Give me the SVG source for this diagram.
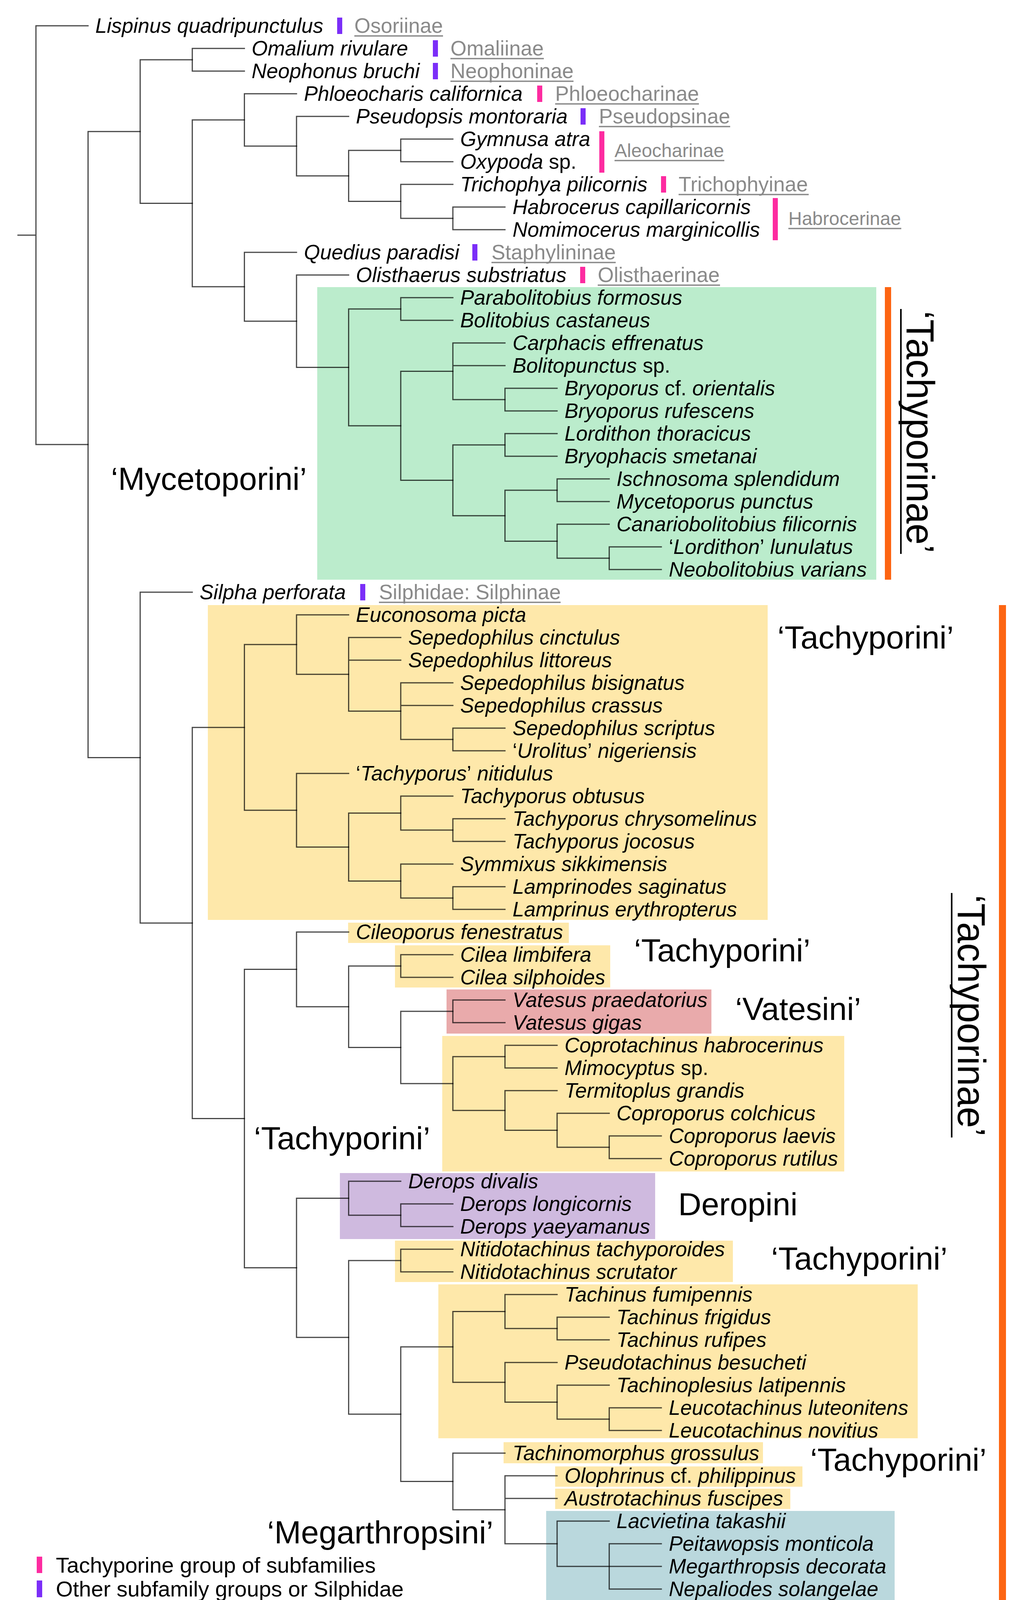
<svg xmlns="http://www.w3.org/2000/svg" width="2616" height="4142" viewBox="0 0 2616 4142">
<style>
.lf{font-family:"Liberation Sans",Arial,sans-serif;font-size:53px;font-style:italic;fill:#000}
.up{font-style:normal}
.sf{font-family:"Liberation Sans",Arial,sans-serif;font-size:53px;fill:#8a8a8a}
.sf2{font-family:"Liberation Sans",Arial,sans-serif;font-size:48px;fill:#8a8a8a}
.ul{stroke:#8a8a8a;stroke-width:3.5}
.cl{font-family:"Liberation Sans",Arial,sans-serif;font-size:82px;fill:#000}
.rt{font-family:"Liberation Sans",Arial,sans-serif;font-size:100px;fill:#000}
.lg{font-family:"Liberation Sans",Arial,sans-serif;font-size:56px;fill:#000}
.pk{fill:#fd2ba0}
.pu{fill:#7b2ef8}
.gr{fill:#bbeccc}
.ye{fill:#fee8aa}
.rd{fill:#e9aaab}
.vi{fill:#cfbadf}
.bl{fill:#bad8dd}
.or{fill:#fd6512}
#connectors path{fill:none;stroke:#000;stroke-opacity:0.72;stroke-width:3;stroke-linecap:square}
</style>
<rect width="2616" height="4142" fill="#fff"/>
<g id="boxes">
<rect class="gr" x="812" y="735" width="1431" height="749"/>
<rect class="ye" x="532" y="1549" width="1433" height="806"/>
<rect class="ye" x="891" y="2362" width="565" height="52"/>
<rect class="ye" x="1011" y="2420" width="551" height="108"/>
<rect class="rd" x="1143" y="2533" width="678" height="113"/>
<rect class="ye" x="1132" y="2652" width="1029" height="347"/>
<rect class="vi" x="870" y="3003" width="807" height="169"/>
<rect class="ye" x="1011" y="3176" width="865" height="106"/>
<rect class="ye" x="1122" y="3288" width="1227" height="394"/>
<rect class="ye" x="1289" y="3692" width="664" height="54"/>
<rect class="ye" x="1421" y="3754" width="633" height="52"/>
<rect class="ye" x="1421" y="3811" width="602" height="52"/>
<rect class="bl" x="1398" y="3868" width="892" height="228"/>
</g>
<g id="connectors">
<path d="M46 602H92M92 66V1138.1M92 66H225.4M92 1138.1H225.4"/>
<path d="M225.4 336.8V1939.5M225.4 336.8H358.8M225.4 1939.5H358.8"/>
<path d="M358.8 153V520.6M358.8 153H492.2M358.8 520.6H492.2"/>
<path d="M492.2 124V182M492.2 124H625.6M492.2 182H625.6"/>
<path d="M492.2 307.1V734.1M492.2 307.1H625.6M492.2 734.1H625.6"/>
<path d="M625.6 240V374.1M625.6 240H759M625.6 374.1H759"/>
<path d="M759 298V450.3M759 298H892.4M759 450.3H892.4"/>
<path d="M892.4 385V515.5M892.4 385H1025.8M892.4 515.5H1025.8"/>
<path d="M1025.8 356V414M1025.8 356H1159.2M1025.8 414H1159.2"/>
<path d="M1025.8 472V559M1025.8 472H1159.2M1025.8 559H1159.2"/>
<path d="M1159.2 530V588M1159.2 530H1292.6M1159.2 588H1292.6"/>
<path d="M625.6 646V822.3M625.6 646H759M625.6 822.3H759"/>
<path d="M759 704V940.5M759 704H892.4M759 940.5H892.4"/>
<path d="M892.4 791V1090.1M892.4 791H1025.8M892.4 1090.1H1025.8"/>
<path d="M1025.8 762V820M1025.8 762H1159.2M1025.8 820H1159.2"/>
<path d="M1025.8 950.5V1229.6M1025.8 950.5H1159.2M1025.8 1229.6H1159.2"/>
<path d="M1159.2 878V1023M1159.2 878H1292.6M1159.2 936H1292.6M1159.2 1023H1292.6"/>
<path d="M1292.6 994V1052M1292.6 994H1426M1292.6 1052H1426"/>
<path d="M1159.2 1139V1320.3M1159.2 1139H1292.6M1159.2 1320.3H1292.6"/>
<path d="M1292.6 1110V1168M1292.6 1110H1426M1292.6 1168H1426"/>
<path d="M1292.6 1255V1385.5M1292.6 1255H1426M1292.6 1385.5H1426"/>
<path d="M1426 1226V1284M1426 1226H1559.4M1426 1284H1559.4"/>
<path d="M1426 1342V1429M1426 1342H1559.4M1426 1429H1559.4"/>
<path d="M1559.4 1400V1458M1559.4 1400H1692.8M1559.4 1458H1692.8"/>
<path d="M358.8 1516V2362.9M358.8 1516H492.2M358.8 2362.9H492.2"/>
<path d="M492.2 1862.2V2863.6M492.2 1862.2H625.6M492.2 2863.6H625.6"/>
<path d="M625.6 1650.1V2074.3M625.6 1650.1H759M625.6 2074.3H759"/>
<path d="M759 1574V1726.3M759 1574H892.4M759 1726.3H892.4"/>
<path d="M892.4 1632V1820.5M892.4 1632H1025.8M892.4 1690H1025.8M892.4 1820.5H1025.8"/>
<path d="M1025.8 1748V1893M1025.8 1748H1159.2M1025.8 1806H1159.2M1025.8 1893H1159.2"/>
<path d="M1159.2 1864V1922M1159.2 1864H1292.6M1159.2 1922H1292.6"/>
<path d="M759 1980V2168.5M759 1980H892.4M759 2168.5H892.4"/>
<path d="M892.4 2081.5V2255.5M892.4 2081.5H1025.8M892.4 2255.5H1025.8"/>
<path d="M1025.8 2038V2125M1025.8 2038H1159.2M1025.8 2125H1159.2"/>
<path d="M1159.2 2096V2154M1159.2 2096H1292.6M1159.2 2154H1292.6"/>
<path d="M1025.8 2212V2299M1025.8 2212H1159.2M1025.8 2299H1159.2"/>
<path d="M1159.2 2270V2328M1159.2 2270H1292.6M1159.2 2328H1292.6"/>
<path d="M625.6 2481.6V3245.6M625.6 2481.6H759M625.6 3245.6H759"/>
<path d="M759 2386V2577.2M759 2386H892.4M759 2577.2H892.4"/>
<path d="M892.4 2473V2681.4M892.4 2473H1025.8M892.4 2681.4H1025.8"/>
<path d="M1025.8 2444V2502M1025.8 2444H1159.2M1025.8 2502H1159.2"/>
<path d="M1025.8 2589V2773.9M1025.8 2589H1159.2M1025.8 2773.9H1159.2"/>
<path d="M1159.2 2560V2618M1159.2 2560H1292.6M1159.2 2618H1292.6"/>
<path d="M1159.2 2705V2842.8M1159.2 2705H1292.6M1159.2 2842.8H1292.6"/>
<path d="M1292.6 2676V2734M1292.6 2676H1426M1292.6 2734H1426"/>
<path d="M1292.6 2792V2893.5M1292.6 2792H1426M1292.6 2893.5H1426"/>
<path d="M1426 2850V2937M1426 2850H1559.4M1426 2937H1559.4"/>
<path d="M1559.4 2908V2966M1559.4 2908H1692.8M1559.4 2966H1692.8"/>
<path d="M759 3067.5V3423.7M759 3067.5H892.4M759 3423.7H892.4"/>
<path d="M892.4 3024V3111M892.4 3024H1025.8M892.4 3111H1025.8"/>
<path d="M1025.8 3082V3140M1025.8 3082H1159.2M1025.8 3140H1159.2"/>
<path d="M892.4 3227V3620.3M892.4 3227H1025.8M892.4 3620.3H1025.8"/>
<path d="M1025.8 3198V3256M1025.8 3198H1159.2M1025.8 3256H1159.2"/>
<path d="M1025.8 3448.1V3792.5M1025.8 3448.1H1159.2M1025.8 3792.5H1159.2"/>
<path d="M1159.2 3357.5V3538.8M1159.2 3357.5H1292.6M1159.2 3538.8H1292.6"/>
<path d="M1292.6 3314V3401M1292.6 3314H1426M1292.6 3401H1426"/>
<path d="M1426 3372V3430M1426 3372H1559.4M1426 3430H1559.4"/>
<path d="M1292.6 3488V3589.5M1292.6 3488H1426M1292.6 3589.5H1426"/>
<path d="M1426 3546V3633M1426 3546H1559.4M1426 3633H1559.4"/>
<path d="M1559.4 3604V3662M1559.4 3604H1692.8M1559.4 3662H1692.8"/>
<path d="M1159.2 3720V3865M1159.2 3720H1292.6M1159.2 3865H1292.6"/>
<path d="M1292.6 3778V3952M1292.6 3778H1426M1292.6 3836H1426M1292.6 3952H1426"/>
<path d="M1426 3894V4010M1426 3894H1559.4M1426 4010H1559.4"/>
<path d="M1559.4 3952V4068M1559.4 3952H1692.8M1559.4 4010H1692.8M1559.4 4068H1692.8"/>
</g>
<g id="n0"><text class="lf" x="244" y="84">Lispinus quadripunctulus</text><rect class="pu" x="863" y="45" width="13" height="42"/><text class="sf" x="907" y="84">Osoriinae</text><line class="ul" x1="907" y1="92" x2="1134" y2="92"/></g>
<g id="n1"><text class="lf" x="644" y="142">Omalium rivulare</text><rect class="pu" x="1108" y="103" width="13" height="42"/><text class="sf" x="1153" y="142">Omaliinae</text><line class="ul" x1="1153" y1="150" x2="1392" y2="150"/></g>
<g id="n2"><text class="lf" x="644" y="200">Neophonus bruchi</text><rect class="pu" x="1108" y="161" width="13" height="42"/><text class="sf" x="1153" y="200">Neophoninae</text><line class="ul" x1="1153" y1="208" x2="1468" y2="208"/></g>
<g id="n3"><text class="lf" x="778" y="258">Phloeocharis californica</text><rect class="pk" x="1375" y="219" width="13" height="42"/><text class="sf" x="1421" y="258">Phloeocharinae</text><line class="ul" x1="1421" y1="266" x2="1789" y2="266"/></g>
<g id="n4"><text class="lf" x="911" y="316">Pseudopsis montoraria</text><rect class="pu" x="1486" y="277" width="13" height="42"/><text class="sf" x="1533" y="316">Pseudopsinae</text><line class="ul" x1="1533" y1="324" x2="1869" y2="324"/></g>
<g id="n5"><text class="lf" x="1178" y="374">Gymnusa atra</text></g>
<g id="n6"><text class="lf" x="1178" y="432">Oxypoda <tspan class="up">sp.</tspan></text></g>
<g id="g-aleocharinae"><rect class="pk" x="1534" y="336" width="13" height="106"/><text class="sf2" x="1573" y="402">Aleocharinae</text><line class="ul" x1="1573" y1="411" x2="1854" y2="411"/></g>
<g id="n7"><text class="lf" x="1178" y="490">Trichophya pilicornis</text><rect class="pk" x="1692" y="451" width="13" height="42"/><text class="sf" x="1737" y="490">Trichophyinae</text><line class="ul" x1="1737" y1="498" x2="2070" y2="498"/></g>
<g id="n8"><text class="lf" x="1312" y="548">Habrocerus capillaricornis</text></g>
<g id="n9"><text class="lf" x="1312" y="606">Nomimocerus marginicollis</text></g>
<g id="g-habrocerinae"><rect class="pk" x="1978" y="507" width="13" height="108"/><text class="sf2" x="2018" y="576">Habrocerinae</text><line class="ul" x1="2018" y1="585" x2="2307" y2="585"/></g>
<g id="n10"><text class="lf" x="778" y="664">Quedius paradisi</text><rect class="pu" x="1209" y="625" width="13" height="42"/><text class="sf" x="1258" y="664">Staphylininae</text><line class="ul" x1="1258" y1="672" x2="1576" y2="672"/></g>
<g id="n11"><text class="lf" x="911" y="722">Olisthaerus substriatus</text><rect class="pk" x="1485" y="683" width="13" height="42"/><text class="sf" x="1530" y="722">Olisthaerinae</text><line class="ul" x1="1530" y1="730" x2="1843" y2="730"/></g>
<g id="n12"><text class="lf" x="1178" y="780">Parabolitobius formosus</text></g>
<g id="n13"><text class="lf" x="1178" y="838">Bolitobius castaneus</text></g>
<g id="n14"><text class="lf" x="1312" y="896">Carphacis effrenatus</text></g>
<g id="n15"><text class="lf" x="1312" y="954">Bolitopunctus <tspan class="up">sp.</tspan></text></g>
<g id="n16"><text class="lf" x="1445" y="1012">Bryoporus <tspan class="up">cf.</tspan> orientalis</text></g>
<g id="n17"><text class="lf" x="1445" y="1070">Bryoporus rufescens</text></g>
<g id="n18"><text class="lf" x="1445" y="1128">Lordithon thoracicus</text></g>
<g id="n19"><text class="lf" x="1445" y="1186">Bryophacis smetanai</text></g>
<g id="n20"><text class="lf" x="1578" y="1244">Ischnosoma splendidum</text></g>
<g id="n21"><text class="lf" x="1578" y="1302">Mycetoporus punctus</text></g>
<g id="n22"><text class="lf" x="1578" y="1360">Canariobolitobius filicornis</text></g>
<g id="n23"><text class="lf" x="1712" y="1418"><tspan class="up">‘</tspan>Lordithon<tspan class="up">’</tspan> lunulatus</text></g>
<g id="n24"><text class="lf" x="1712" y="1476">Neobolitobius varians</text></g>
<g id="n25"><text class="lf" x="511" y="1534">Silpha perforata</text><rect class="pu" x="922" y="1495" width="13" height="42"/><text class="sf" x="970" y="1534">Silphidae: Silphinae</text><line class="ul" x1="970" y1="1542" x2="1435" y2="1542"/></g>
<g id="n26"><text class="lf" x="911" y="1592">Euconosoma picta</text></g>
<g id="n27"><text class="lf" x="1045" y="1650">Sepedophilus cinctulus</text></g>
<g id="n28"><text class="lf" x="1045" y="1708">Sepedophilus littoreus</text></g>
<g id="n29"><text class="lf" x="1178" y="1766">Sepedophilus bisignatus</text></g>
<g id="n30"><text class="lf" x="1178" y="1824">Sepedophilus crassus</text></g>
<g id="n31"><text class="lf" x="1312" y="1882">Sepedophilus scriptus</text></g>
<g id="n32"><text class="lf" x="1312" y="1940"><tspan class="up">‘</tspan>Urolitus<tspan class="up">’</tspan> nigeriensis</text></g>
<g id="n33"><text class="lf" x="911" y="1998"><tspan class="up">‘</tspan>Tachyporus<tspan class="up">’</tspan> nitidulus</text></g>
<g id="n34"><text class="lf" x="1178" y="2056">Tachyporus obtusus</text></g>
<g id="n35"><text class="lf" x="1312" y="2114">Tachyporus chrysomelinus</text></g>
<g id="n36"><text class="lf" x="1312" y="2172">Tachyporus jocosus</text></g>
<g id="n37"><text class="lf" x="1178" y="2230">Symmixus sikkimensis</text></g>
<g id="n38"><text class="lf" x="1312" y="2288">Lamprinodes saginatus</text></g>
<g id="n39"><text class="lf" x="1312" y="2346">Lamprinus erythropterus</text></g>
<g id="n40"><text class="lf" x="911" y="2404">Cileoporus fenestratus</text></g>
<g id="n41"><text class="lf" x="1178" y="2462">Cilea limbifera</text></g>
<g id="n42"><text class="lf" x="1178" y="2520">Cilea silphoides</text></g>
<g id="n43"><text class="lf" x="1312" y="2578">Vatesus praedatorius</text></g>
<g id="n44"><text class="lf" x="1312" y="2636">Vatesus gigas</text></g>
<g id="n45"><text class="lf" x="1445" y="2694">Coprotachinus habrocerinus</text></g>
<g id="n46"><text class="lf" x="1445" y="2752">Mimocyptus <tspan class="up">sp.</tspan></text></g>
<g id="n47"><text class="lf" x="1445" y="2810">Termitoplus grandis</text></g>
<g id="n48"><text class="lf" x="1578" y="2868">Coproporus colchicus</text></g>
<g id="n49"><text class="lf" x="1712" y="2926">Coproporus laevis</text></g>
<g id="n50"><text class="lf" x="1712" y="2984">Coproporus rutilus</text></g>
<g id="n51"><text class="lf" x="1045" y="3042">Derops divalis</text></g>
<g id="n52"><text class="lf" x="1178" y="3100">Derops longicornis</text></g>
<g id="n53"><text class="lf" x="1178" y="3158">Derops yaeyamanus</text></g>
<g id="n54"><text class="lf" x="1178" y="3216">Nitidotachinus tachyporoides</text></g>
<g id="n55"><text class="lf" x="1178" y="3274">Nitidotachinus scrutator</text></g>
<g id="n56"><text class="lf" x="1445" y="3332">Tachinus fumipennis</text></g>
<g id="n57"><text class="lf" x="1578" y="3390">Tachinus frigidus</text></g>
<g id="n58"><text class="lf" x="1578" y="3448">Tachinus rufipes</text></g>
<g id="n59"><text class="lf" x="1445" y="3506">Pseudotachinus besucheti</text></g>
<g id="n60"><text class="lf" x="1578" y="3564">Tachinoplesius latipennis</text></g>
<g id="n61"><text class="lf" x="1712" y="3622">Leucotachinus luteonitens</text></g>
<g id="n62"><text class="lf" x="1712" y="3680">Leucotachinus novitius</text></g>
<g id="n63"><text class="lf" x="1312" y="3738">Tachinomorphus grossulus</text></g>
<g id="n64"><text class="lf" x="1445" y="3796">Olophrinus <tspan class="up">cf.</tspan> philippinus</text></g>
<g id="n65"><text class="lf" x="1445" y="3854">Austrotachinus fuscipes</text></g>
<g id="n66"><text class="lf" x="1578" y="3912">Lacvietina takashii</text></g>
<g id="n67"><text class="lf" x="1712" y="3970">Peitawopsis monticola</text></g>
<g id="n68"><text class="lf" x="1712" y="4028">Megarthropsis decorata</text></g>
<g id="n69"><text class="lf" x="1712" y="4086">Nepaliodes solangelae</text></g>
<g id="clades">
<text class="cl" x="284" y="1254">‘Mycetoporini’</text>
<text class="cl" x="1990" y="1660">‘Tachyporini’</text>
<text class="cl" x="1623" y="2461">‘Tachyporini’</text>
<text class="cl" x="1882" y="2611">‘Vatesini’</text>
<text class="cl" x="650" y="2942">‘Tachyporini’</text>
<text class="cl" x="1736" y="3111">Deropini</text>
<text class="cl" x="1974" y="3250">‘Tachyporini’</text>
<text class="cl" x="2074" y="3765">‘Tachyporini’</text>
<text class="cl" x="684" y="3951">‘Megarthropsini’</text>
</g>
<g id="tachyporinae-top">
<rect class="or" x="2265" y="735" width="16" height="749"/>
<line x1="2306" y1="791" x2="2306" y2="1418" stroke="#000" stroke-width="4"/>
<text class="rt" transform="translate(2321 796) rotate(90)" textLength="620" lengthAdjust="spacingAndGlyphs">‘Tachyporinae’</text>
</g>
<g id="tachyporinae-bottom">
<rect class="or" x="2557" y="1549" width="18" height="2547"/>
<line x1="2436" y1="2286" x2="2436" y2="2912" stroke="#000" stroke-width="4"/>
<text class="rt" transform="translate(2452 2291) rotate(90)" textLength="618" lengthAdjust="spacingAndGlyphs">‘Tachyporinae’</text>
</g>
<g id="legend">
<rect class="pk" x="94" y="3985" width="14" height="42"/>
<text class="lg" x="143" y="4026">Tachyporine group of subfamilies</text>
<rect class="pu" x="94" y="4046" width="14" height="43"/>
<text class="lg" x="143" y="4087">Other subfamily groups or Silphidae</text>
</g>
</svg>
